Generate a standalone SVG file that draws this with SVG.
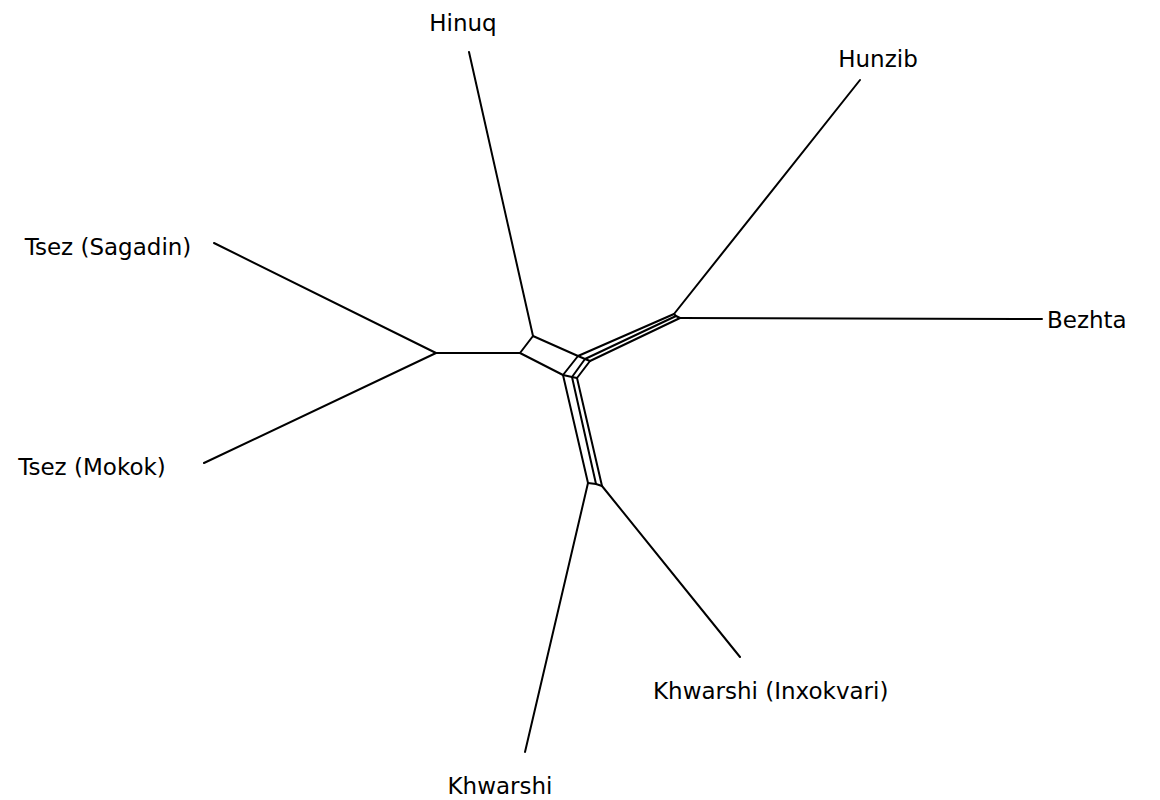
<svg xmlns="http://www.w3.org/2000/svg" width="1160" height="800" viewBox="0 0 1160 800">
<style>
.e{stroke:#000;stroke-width:2;fill:none;stroke-linejoin:round;stroke-linecap:round}
.t{font-family:"DejaVu Sans",Verdana,sans-serif;font-size:23px;fill:#000}
</style>
<rect width="1160" height="800" fill="#fff"/>
<g id="connectors">
<path class="e" d="M469,52 L533,336"/>
<path class="e" d="M214,243 L436,353 L204,463"/>
<path class="e" d="M436,353 L520,353"/>
<path class="e" d="M520,353 L533,336 L578,356 L563,375 Z"/>
<path class="e" d="M578,356 L585,359 L590,361"/>
<path class="e" d="M563,375 L572,377 L577,378"/>
<path class="e" d="M572,377 L585,359"/>
<path class="e" d="M577,378 L590,361"/>
<path class="e" d="M578,356 L674,314"/>
<path class="e" d="M585,359 L676,316"/>
<path class="e" d="M590,361 L680,318"/>
<path class="e" d="M674,314 L676,316 L680,318"/>
<path class="e" d="M674,314 L860,80"/>
<path class="e" d="M680,318 L1042,319"/>
<path class="e" d="M563,375 L588,483"/>
<path class="e" d="M572,377 L596,484"/>
<path class="e" d="M577,378 L602,486"/>
<path class="e" d="M588,483 L596,484 L602,486"/>
<path class="e" d="M588,483 L525,752"/>
<path class="e" d="M602,486 L740,657"/>
</g>
<g id="n-hinuq"><text class="t" x="463" y="31" text-anchor="middle">Hinuq</text></g>
<g id="n-hunzib"><text class="t" x="878" y="67" text-anchor="middle">Hunzib</text></g>
<g id="n-bezhta"><text class="t" x="1047" y="328">Bezhta</text></g>
<g id="n-tsez-sagadin"><text class="t" x="108" y="255" text-anchor="middle">Tsez (Sagadin)</text></g>
<g id="n-tsez-mokok"><text class="t" x="92" y="475" text-anchor="middle">Tsez (Mokok)</text></g>
<g id="n-khwarshi-inx"><text class="t" x="653" y="699">Khwarshi (Inxokvari)</text></g>
<g id="n-khwarshi"><text class="t" x="500" y="794" text-anchor="middle">Khwarshi</text></g>
</svg>
